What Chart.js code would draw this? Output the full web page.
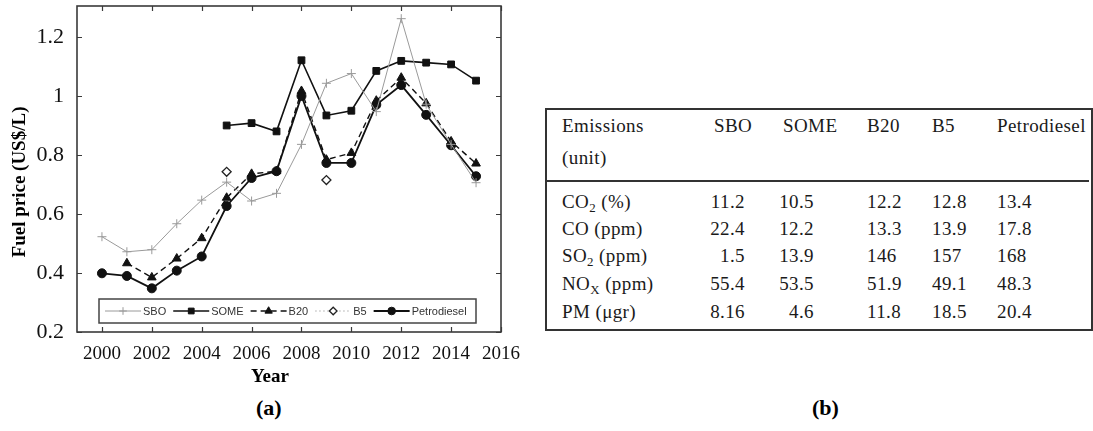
<!DOCTYPE html>
<html>
<head>
<meta charset="utf-8">
<title>Fuel price and emissions</title>
<script src="https://cdn.jsdelivr.net/npm/chart.js@4.4.1/dist/chart.umd.min.js"></script>
<style>
  html, body { margin: 0; padding: 0; background: #fff; }
  #page { position: relative; width: 1093px; height: 431px; overflow: hidden; }
  #chartBox { position: absolute; left: 0; top: 0; width: 530px; height: 395px; }
  .cap { position: absolute; top: 395px; font: bold 22px 'Liberation Serif', 'Times New Roman', serif; color: #000; }
  #table { position: absolute; left: 545px; top: 108px; width: 544px; height: 219px;
           border: 2px solid #333; font: 19px 'Liberation Serif', serif; letter-spacing: 0.4px; color: #1a1a1a; }
  #table .rule { position: absolute; left: 0; right: 2px; top: 70px; height: 2px; background: #333; }
  #table .c { position: absolute; white-space: nowrap; line-height: 22px; }
  #table sub { font-size: 0.68em; vertical-align: -0.3em; line-height: 0; }
</style>
</head>
<body>
<div id="page">
  <div id="chartBox"><canvas id="price-chart"></canvas></div>
  <div class="cap" style="left:256px">(a)</div>
  <div class="cap" style="left:812px">(b)</div>
  <div id="table"><div class="rule"></div></div>
</div>
<script>
// Fuel price chart (a)
const years = [2000, 2001, 2002, 2003, 2004, 2005, 2006, 2007, 2008, 2009, 2010, 2011, 2012, 2013, 2014, 2015];
const sbo = [0.523, 0.472, 0.479, 0.567, 0.647, 0.708, 0.644, 0.670, 0.836, 1.043, 1.076, 0.947, 1.262, 0.972, 0.836, 0.706];
const some = [null, null, null, null, null, 0.900, 0.908, 0.880, 1.121, 0.934, 0.950, 1.085, 1.119, 1.113, 1.107, 1.052];
const b20 = [null, 0.433, 0.385, 0.449, 0.518, 0.655, 0.736, 0.745, 1.017, 0.784, 0.807, 0.984, 1.062, 0.975, 0.846, 0.771];
const b5 = [null, null, null, null, null, 0.743, null, null, null, 0.715, null, null, null, null, null, null];
const petro = [0.399, 0.390, 0.348, 0.408, 0.456, 0.627, 0.722, 0.745, 1.000, 0.773, 0.773, 0.970, 1.037, 0.936, 0.833, 0.728];
const xTicks = [2000, 2002, 2004, 2006, 2008, 2010, 2012, 2014, 2016];
const yTicks = [0.2, 0.4, 0.6, 0.8, 1.0, 1.2];
const yTickLabels = ['0.2', '0.4', '0.6', '0.8', '1', '1.2'];
const xTitle = 'Year';
const yTitle = 'Fuel price (US$/L)';

// Emissions table (b)
const tableCols = ['SBO', 'SOME', 'B20', 'B5', 'Petrodiesel'];
const tableRows = ['CO<sub>2</sub> (%)', 'CO (ppm)', 'SO<sub>2</sub> (ppm)', 'NO<sub>X</sub> (ppm)', 'PM (\u03bcgr)'];
const tableValues = [
    ['11.2', '10.5', '12.2', '12.8', '13.4'],
    ['22.4', '12.2', '13.3', '13.9', '17.8'],
    ['1.5', '13.9', '146', '157', '168'],
    ['55.4', '53.5', '51.9', '49.1', '48.3'],
    ['8.16', '4.6', '11.8', '18.5', '20.4']
];

const serif = "'Liberation Serif', 'Times New Roman', serif";
const pts = arr => years.map((yr, i) => ({ x: yr, y: arr[i] }));

// inward tick marks on all four sides, the frame and the axis titles
const frameTicks = {
    id: 'frameTicks',
    afterDraw(chart) {
        const { ctx, chartArea: a, scales: { x, y } } = chart;
        ctx.save();
        ctx.strokeStyle = '#3a3a3a';
        ctx.lineWidth = 1.2;
        ctx.beginPath();
        x.ticks.forEach(t => {
            const px = Math.round(x.getPixelForValue(t.value)) + 0.5;
            ctx.moveTo(px, a.bottom); ctx.lineTo(px, a.bottom - 5);
            ctx.moveTo(px, a.top); ctx.lineTo(px, a.top + 5);
        });
        y.ticks.forEach(t => {
            const py = Math.round(y.getPixelForValue(t.value)) + 0.5;
            ctx.moveTo(a.left, py); ctx.lineTo(a.left + 5, py);
            ctx.moveTo(a.right, py); ctx.lineTo(a.right - 5, py);
        });
        ctx.stroke();
        ctx.lineWidth = 1.6;
        ctx.strokeRect(a.left, a.top, a.right - a.left, a.bottom - a.top);

        // titles (the originals sit off-centre, so placed by hand)
        ctx.fillStyle = '#000';
        ctx.textAlign = 'center';
        ctx.textBaseline = 'middle';
        ctx.font = 'bold 19px ' + serif;
        ctx.fillText(xTitle, 270, 377);
        ctx.translate(20, 182);
        ctx.rotate(-Math.PI / 2);
        ctx.fillText(yTitle, 0, 0);
        ctx.restore();
    }
};

// boxed legend drawn inside the plot, bottom
const innerLegend = {
    id: 'innerLegend',
    afterDraw(chart) {
        const { ctx, chartArea: a } = chart;
        const top = a.bottom - 33, h = 24;
        ctx.save();
        ctx.fillStyle = '#fff';
        ctx.fillRect(a.left + 22, top, 377, h);
        ctx.strokeStyle = '#444';
        ctx.lineWidth = 1.5;
        ctx.strokeRect(a.left + 22, top, 377, h);
        ctx.font = "11px 'Liberation Sans', Arial, sans-serif";
        ctx.textBaseline = 'middle';
        const cy = top + h / 2;
        let cx = a.left + 28;
        chart.data.datasets.forEach(ds => {
            ctx.strokeStyle = ds.borderColor;
            ctx.lineWidth = ds.borderWidth;
            ctx.setLineDash(ds.borderDash || []);
            ctx.beginPath();
            ctx.moveTo(cx, cy); ctx.lineTo(cx + 36, cy);
            ctx.stroke();
            ctx.setLineDash([]);
            ctx.fillStyle = ds.pointBackgroundColor;
            ctx.strokeStyle = ds.pointBorderColor;
            ctx.lineWidth = ds.pointBorderWidth;
            Chart.helpers.drawPoint(ctx, {
                pointStyle: ds.pointStyle, radius: ds.pointRadius * 0.85,
                borderWidth: ds.pointBorderWidth, rotation: 0
            }, cx + 18, cy);
            ctx.fillStyle = '#333';
            ctx.fillText(ds.label, cx + 38, cy + 1);
            cx += 38 + ctx.measureText(ds.label).width + 7;
        });
        ctx.restore();
    }
};

new Chart(document.getElementById('price-chart').getContext('2d'), {
    type: 'line',
    data: {
        datasets: [{
            label: 'SBO',
            data: pts(sbo),
            borderColor: '#9a9a9a',
            borderWidth: 1,
            pointStyle: 'cross',
            pointRadius: 4.5,
            pointBorderWidth: 1,
            pointBorderColor: '#9a9a9a',
            pointBackgroundColor: '#9a9a9a'
        }, {
            label: 'SOME',
            data: pts(some),
            borderColor: '#111',
            borderWidth: 1.6,
            pointStyle: 'rect',
            pointRadius: 4.8,
            pointBorderWidth: 1,
            pointBorderColor: '#111',
            pointBackgroundColor: '#111'
        }, {
            label: 'B20',
            data: pts(b20),
            borderColor: '#111',
            borderWidth: 1.4,
            borderDash: [6, 4],
            pointStyle: 'triangle',
            pointRadius: 5,
            pointBorderWidth: 1,
            pointBorderColor: '#111',
            pointBackgroundColor: '#111'
        }, {
            label: 'B5',
            data: pts(b5),
            borderColor: '#aaa',
            borderWidth: 1,
            borderDash: [1.5, 2.5],
            pointStyle: 'rectRot',
            pointRadius: 4.5,
            pointBorderWidth: 1.3,
            pointBorderColor: '#222',
            pointBackgroundColor: '#fff'
        }, {
            label: 'Petrodiesel',
            data: pts(petro),
            borderColor: '#111',
            borderWidth: 1.8,
            pointStyle: 'circle',
            pointRadius: 4.5,
            pointBorderWidth: 1,
            pointBorderColor: '#111',
            pointBackgroundColor: '#111'
        }]
    },
    options: {
        responsive: true,
        maintainAspectRatio: false,
        animation: false,
        spanGaps: false,
        layout: { padding: { left: 0, top: 4, right: 29, bottom: 0 } },
        plugins: {
            legend: { display: false },
            tooltip: { enabled: false }
        },
        scales: {
            x: {
                type: 'linear',
                min: 1999,
                max: 2016,
                afterBuildTicks: s => { s.ticks = xTicks.map(v => ({ value: v })); },
                afterFit: s => { s.height = 63; s.paddingLeft = 0; s.paddingRight = 0; },
                grid: { display: false },
                border: { display: false },
                ticks: {
                    color: '#111',
                    padding: 3,
                    maxRotation: 0,
                    autoSkip: false,
                    font: { family: serif, size: 19 },
                    callback: v => String(v)
                }
            },
            y: {
                min: 0.2,
                max: 1.305,
                afterBuildTicks: s => { s.ticks = yTicks.map(v => ({ value: v })); },
                afterFit: s => { s.width = 77; s.paddingTop = 0; s.paddingBottom = 0; },
                grid: { display: false },
                border: { display: false },
                ticks: {
                    color: '#111',
                    padding: 5,
                    font: { family: serif, size: 22 },
                    callback: (v, i) => yTickLabels[i]
                }
            }
        }
    },
    plugins: [frameTicks, innerLegend]
});

// table (b)
const colX = [167, 236, 320, 385, 450];      // left edge of each column, px inside the box
const colAlignRight = [true, true, false, false, false];
const colRight = [198, 267];
const rowY = [81, 108, 135, 163, 191];
let html = '';
html += '<div class="c" style="left:15px;top:5px">Emissions<br><span style="position:relative;top:10px">(unit)</span></div>';
tableCols.forEach((c, j) => {
    html += '<div class="c" style="left:' + colX[j] + 'px;top:5px">' + c + '</div>';
});
tableRows.forEach((r, i) => {
    html += '<div class="c" style="left:15px;top:' + rowY[i] + 'px">' + r + '</div>';
    tableValues[i].forEach((v, j) => {
        if (colAlignRight[j]) {
            html += '<div class="c" style="right:' + (544 - colRight[j]) + 'px;top:' + rowY[i] + 'px">' + v + '</div>';
        } else {
            html += '<div class="c" style="left:' + colX[j] + 'px;top:' + rowY[i] + 'px">' + v + '</div>';
        }
    });
});
document.getElementById('table').insertAdjacentHTML('beforeend', html);
</script>
</body>
</html>
